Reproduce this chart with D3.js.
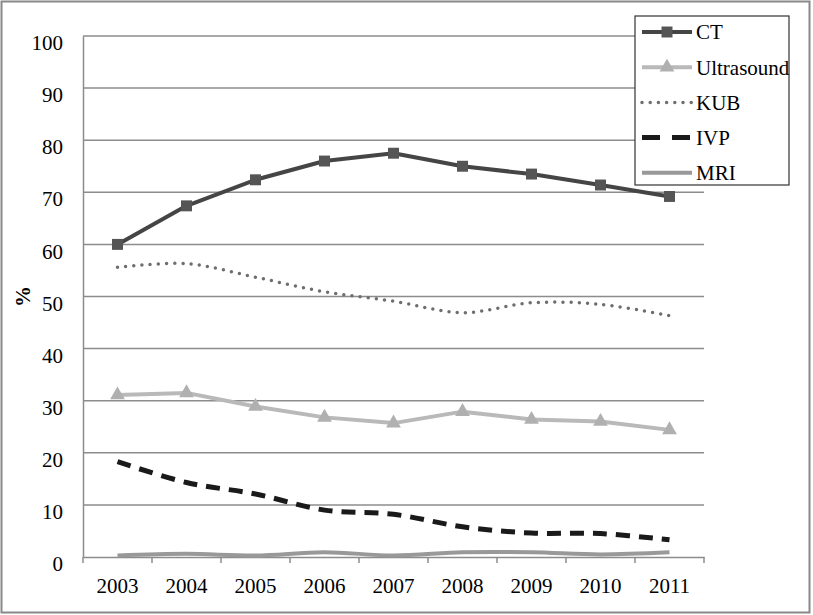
<!DOCTYPE html>
<html>
<head>
<meta charset="utf-8">
<script src="https://cdn.jsdelivr.net/npm/d3@7"></script>
<style>
  html, body { margin: 0; padding: 0; background: #fff; }
  svg { display: block; }
</style>
</head>
<body>
<svg id="chart" width="813" height="615"></svg>
<script>
const years = ["2003","2004","2005","2006","2007","2008","2009","2010","2011"];
const ct         = [60.0, 67.4, 72.4, 76.0, 77.5, 75.0, 73.5, 71.4, 69.2];
const ultrasound = [31.1, 31.5, 28.9, 26.8, 25.7, 27.9, 26.4, 26.0, 24.4];
const kub        = [55.6, 56.3, 53.7, 50.9, 49.1, 46.9, 48.8, 48.5, 46.3];
const ivp        = [18.3, 14.3, 12.1, 9.0, 8.2, 5.8, 4.6, 4.5, 3.3];
const mri        = [0.3, 0.6, 0.3, 0.9, 0.3, 0.9, 0.9, 0.5, 0.9];
const yTicks     = [0, 10, 20, 30, 40, 50, 60, 70, 80, 90, 100];
const seriesNames = ["CT", "Ultrasound", "KUB", "IVP", "MRI"];

const svg = d3.select("#chart");
const mLeft = 83, mRight = 704, mTop = 36, mBottom = 557;
const FONT = "'Liberation Serif', 'Times New Roman', Times, serif";

// outer frame
svg.append("rect").attr("x", 1.5).attr("y", 1.5).attr("width", 808).attr("height", 611)
  .attr("fill", "none").attr("stroke", "#888").attr("stroke-width", 2);

const x = d3.scaleBand().domain(years).range([mLeft, mRight]).padding(0);
const y = d3.scaleLinear().domain([0, 100]).range([mBottom, mTop]);

// gridlines
svg.append("g").selectAll("line").data(yTicks.filter(d => d > 0)).join("line")
  .attr("x1", mLeft).attr("x2", mRight)
  .attr("y1", d => y(d)).attr("y2", d => y(d))
  .attr("stroke", "#8c8c8c").attr("stroke-width", 1.5);

// y axis
const yAxis = svg.append("g").attr("transform", `translate(${mLeft},0)`)
  .call(d3.axisLeft(y).tickValues(yTicks).tickSize(0).tickPadding(20));
yAxis.attr("font-family", null).attr("font-size", null);
yAxis.select(".domain").attr("stroke", "#8c8c8c").attr("stroke-width", 1.5);
yAxis.selectAll("text").attr("font-family", FONT).attr("font-size", 21).attr("fill", "#000")
  .attr("dy", "0.65em");

// x axis
const xAxis = svg.append("g").attr("transform", `translate(0,${mBottom})`)
  .call(d3.axisBottom(x).tickSize(0).tickPadding(21));
xAxis.attr("font-family", null).attr("font-size", null);
xAxis.select(".domain").attr("stroke", "#8c8c8c").attr("stroke-width", 1.5);
xAxis.selectAll("text").attr("font-family", FONT).attr("font-size", 21).attr("fill", "#000");
// tick marks at band boundaries
const bounds = years.map(d => x(d)).concat([x(years[years.length-1]) + x.bandwidth()]);
svg.append("g").selectAll("line").data(bounds).join("line")
  .attr("x1", d => d).attr("x2", d => d).attr("y1", mBottom).attr("y2", mBottom + 6)
  .attr("stroke", "#8c8c8c").attr("stroke-width", 1.5);

// y title
svg.append("text").attr("transform", `translate(30,${y(50)}) rotate(-90)`)
  .attr("text-anchor", "middle").attr("font-family", FONT).attr("font-size", 21)
  .attr("font-weight", "bold").text("%");

const cx = d => x(d) + x.bandwidth() / 2;
const straight = d3.line().x((d, i) => cx(years[i])).y(d => y(d));
const smooth = d3.line().x((d, i) => cx(years[i])).y(d => y(d)).curve(d3.curveCatmullRom.alpha(0.5));

const styles = {
  CT:         { data: ct, color: "#454545", width: 4, dash: null, gen: straight, marker: "square", mcolor: "#555" },
  Ultrasound: { data: ultrasound, color: "#b9b9b9", width: 4, dash: null, gen: straight, marker: "triangle", mcolor: "#b0b0b0" },
  KUB:        { data: kub, color: "#6e6e6e", width: 3.5, dash: "0 8.2", cap: "round", gen: smooth },
  IVP:        { data: ivp, color: "#1a1a1a", width: 5, dash: "14 9", gen: smooth },
  MRI:        { data: mri, color: "#999", width: 4, dash: null, gen: smooth }
};

const order = ["MRI", "IVP", "Ultrasound", "KUB", "CT"];
order.forEach(name => {
  const s = styles[name];
  svg.append("path").datum(s.data).attr("d", s.gen).attr("fill", "none")
    .attr("stroke", s.color).attr("stroke-width", s.width)
    .attr("stroke-dasharray", s.dash).attr("stroke-linecap", s.cap || "butt")
    .attr("stroke-linejoin", "round");
  if (s.marker) {
    const sym = s.marker === "square" ? d3.symbolSquare : d3.symbolTriangle;
    const size = s.marker === "square" ? 120 : 95;
    svg.append("g").selectAll("path").data(s.data).join("path")
      .attr("d", d3.symbol().type(sym).size(size))
      .attr("transform", (d, i) => `translate(${cx(years[i])},${y(d)})`)
      .attr("fill", s.mcolor);
  }
});

// legend
const lg = svg.append("g");
lg.append("rect").attr("x", 635).attr("y", 16).attr("width", 154).attr("height", 169)
  .attr("fill", "#fff").attr("stroke", "#333").attr("stroke-width", 1.2);
seriesNames.forEach((name, i) => {
  const s = styles[name];
  const ly = 32 + i * 35.2;
  lg.append("line").attr("x1", 642).attr("x2", 692).attr("y1", ly).attr("y2", ly)
    .attr("stroke", s.color).attr("stroke-width", s.width)
    .attr("stroke-dasharray", name === "IVP" ? "18 12" : s.dash).attr("stroke-linecap", s.cap || "butt");
  if (s.marker) {
    const sym = s.marker === "square" ? d3.symbolSquare : d3.symbolTriangle;
    lg.append("path").attr("d", d3.symbol().type(sym).size(s.marker === "square" ? 120 : 95))
      .attr("transform", `translate(667,${ly})`).attr("fill", s.mcolor);
  }
  lg.append("text").attr("x", 696).attr("y", ly).attr("dy", "0.35em")
    .attr("font-family", FONT).attr("font-size", 21).attr("fill", "#000").text(name);
});
</script>
</body>
</html>
